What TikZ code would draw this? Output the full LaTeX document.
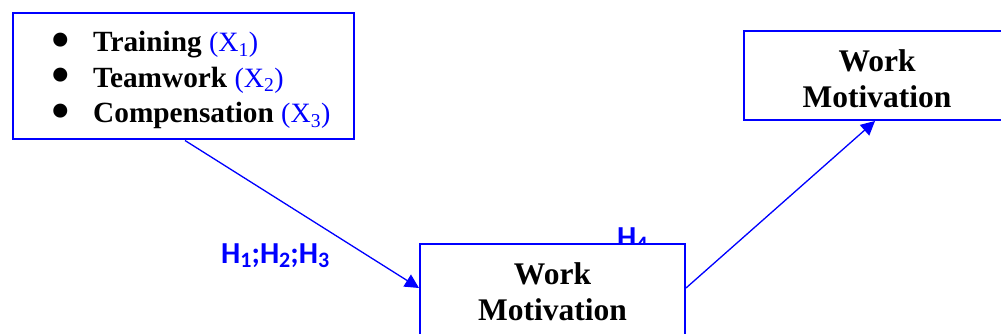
\documentclass[tikz,border=0pt]{standalone}
\usepackage{fontspec}
\setmainfont{Liberation Serif}
\newfontfamily\hfont{Carlito}
\usetikzlibrary{arrows.meta}
\definecolor{pblue}{RGB}{0,0,255}
\tikzset{
  box/.style={draw=pblue, line width=2pt, fill=white, rectangle, inner sep=0pt},
  title/.style={font=\fontsize{31.5}{36}\selectfont\bfseries, align=center, anchor=base, inner sep=0pt},
  listtext/.style={font=\fontsize{29.3}{35.5}\selectfont, align=left, anchor=base west, inner sep=0pt},
  hlabel/.style={font=\hfont\fontsize{30.5}{30}\selectfont\bfseries, text=pblue, anchor=base west, inner sep=0pt},
  conn/.style={draw=pblue, line width=1.3pt, -{Triangle[length=14pt,width=14pt]}, fill=pblue}
}
\newcommand{\xsub}[1]{{\fontsize{28}{35.5}\selectfont\color{pblue}(X\textsubscript{#1})}}
\newcommand{\hsub}[1]{\raisebox{-4pt}{\fontsize{22}{20}\selectfont #1}}
\newcommand{\blt}{\makebox[40pt][l]{\hspace*{-3pt}\raisebox{-7.5pt}{\scalebox{2}{\textbullet}}}}
\begin{document}
\begin{tikzpicture}[x=1pt,y=-1pt]
\path[use as bounding box, clip] (0,0) rectangle (1001,334);
\fill[white] (0,0) rectangle (1001,334);
% left box
\node[box, minimum width=341pt, minimum height=126pt] (lb) at (183.5,76.5) {};
\node[listtext] (list) at (53,123) {\blt\textbf{Training} \xsub{1}\\
\blt\textbf{Teamwork} \xsub{2}\\
\blt\textbf{Compensation} \xsub{3}};
% labels
\node[hlabel] (h123) at (221,263) {H\hsub{1};H\hsub{2};H\hsub{3}};
\node[hlabel] (h4) at (617,247) {H\hsub{4}};
% middle box
\node[box, minimum width=265pt, minimum height=110pt] (mid) at (552.5,299) {};
\node[title] (midt) at (552.5,320) {Work\\Motivation};
% right box
\node[box, minimum width=266pt, minimum height=89pt] (wm2) at (877,75.5) {};
\node[title] (wm2t) at (877,108) {Work\\Motivation};
% connectors
\coordinate (a1s) at ([xshift=1.5pt]lb.south);
\coordinate (a1e) at ([yshift=11pt]mid.west);
\coordinate (a2s) at ([yshift=11pt]mid.east);
\coordinate (a2e) at ([xshift=-2pt]wm2.south);
\draw[conn] (a1s) -- (a1e);
\draw[conn] (a2s) -- (a2e);
\end{tikzpicture}
\end{document}
